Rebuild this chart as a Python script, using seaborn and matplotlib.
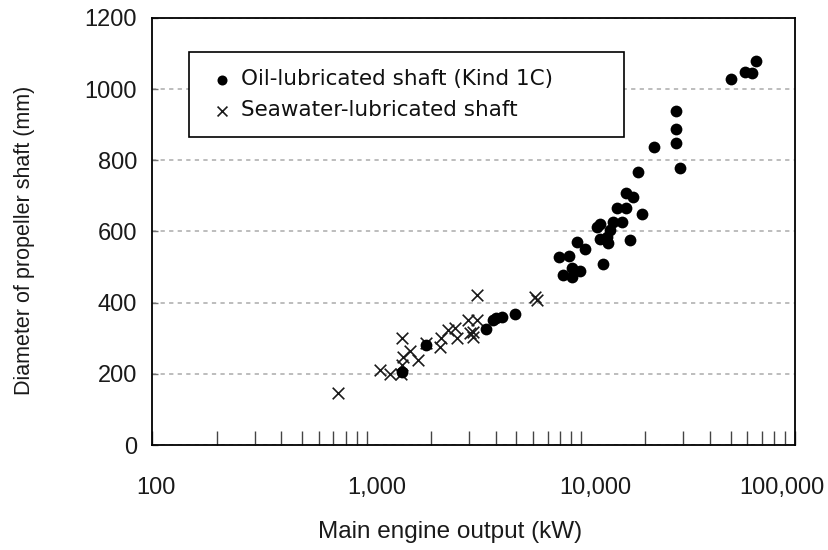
import numpy as np
import pandas as pd
import matplotlib
matplotlib.use('Agg')
import matplotlib.pyplot as plt
import matplotlib.transforms as mtransforms
from matplotlib.ticker import FixedLocator, LogLocator, NullFormatter
import seaborn as sns

# ── Data ───────────────────────────────────────────────────────────────────
oil_kw = [1470, 1905, 3630, 3900, 4040, 4270, 4920,
          7930, 8830, 8220, 9060, 9900, 9060, 9560, 10450,
          11850, 12280, 12280, 13430, 13190, 13680, 12730, 14170, 15520,
          14700, 16290, 16290, 17460, 16950, 19230, 18540, 22000,
          27800, 27800, 27800, 29000,
          50100, 58400, 62800, 65800]
oil_mm = [206, 280, 326, 351, 356, 361, 367,
          529, 531, 478, 473, 489, 497, 571, 550,
          612, 621, 578, 567, 585, 604, 508, 628, 628,
          665, 665, 707, 698, 576, 649, 768, 837,
          939, 887, 848, 779,
          1029, 1047, 1045, 1080]

sea_kw = [736, 1153, 1293, 1455, 1471, 1481, 1471, 1603, 1730, 1905,
          2214, 2238, 2403, 2583, 2630, 2981, 3262, 3133, 3133, 3033,
          3262, 6105, 6220]
sea_mm = [147, 211, 199, 200, 225, 248, 300, 264, 239, 286,
          276, 300, 323, 328, 300, 351, 351, 318, 304, 314,
          421, 417, 408]

oil_label = 'Oil-lubricated shaft (Kind 1C)'
sea_label = 'Seawater-lubricated shaft'

x_ticks = [100, 1000, 10000, 100000]
x_tick_labels = ['100', '1,000', '10,000', '100,000']
y_ticks = [0, 200, 400, 600, 800, 1000, 1200]

oil = pd.DataFrame({'kw': oil_kw, 'mm': oil_mm})
sea = pd.DataFrame({'kw': sea_kw, 'mm': sea_mm})

# ── Style ──────────────────────────────────────────────────────────────────
sns.set_style('white')
plt.rcParams['font.family'] = ['Liberation Sans', 'DejaVu Sans']

fig = plt.figure(figsize=(8.29, 5.50), dpi=100)
ax = fig.add_axes([0.1837, 0.1909, 0.7753, 0.7764])

# --- points ---
sns.scatterplot(data=sea, x='kw', y='mm', marker='x', s=70, color='#1a1a1a',
                linewidth=1.2, label=sea_label, ax=ax, zorder=3)
sns.scatterplot(data=oil, x='kw', y='mm', marker='o', s=72, color='black',
                linewidth=0, label=oil_label, ax=ax, zorder=4)

# --- axes ---
ax.set_xscale('log')
ax.set_xlim(100, 100000)
ax.set_ylim(0, 1200)
ax.xaxis.set_major_locator(FixedLocator(x_ticks))
ax.set_xticklabels(x_tick_labels)
ax.xaxis.set_minor_locator(LogLocator(base=10, subs=np.arange(2, 10)))
ax.xaxis.set_minor_formatter(NullFormatter())
ax.yaxis.set_major_locator(FixedLocator(y_ticks))

ax.tick_params(axis='x', which='both', direction='in', length=10, width=1,
               color='#444444', bottom=True, top=False, pad=23, labelsize=17,
               labelcolor='#1a1a1a')
ax.tick_params(axis='y', which='both', direction='in', length=4, width=1,
               color='#777777', left=True, right=False, pad=11, labelsize=17,
               labelcolor='#1a1a1a')

# tick labels in the original sit a little off their ticks
label_shift = [3.7, 10.3, 14.7, -13.5]
for lab, dx in zip(ax.get_xticklabels(), label_shift):
    lab.set_transform(lab.get_transform() +
                      mtransforms.ScaledTranslation(dx / 100, 0, fig.dpi_scale_trans))

ax.yaxis.grid(True, color='#bdbdbd', linestyle=(0, (2.2, 2.2)), linewidth=1.4)
ax.xaxis.grid(False)
ax.set_axisbelow(True)

for sp in ax.spines.values():
    sp.set_visible(True)
    sp.set_color('black')
    sp.set_linewidth(1.3)

ax.set_xlabel('Main engine output (kW)', fontsize=17.5, color='#1a1a1a')
ax.xaxis.set_label_coords(0.463, -0.178)
ax.set_ylabel('Diameter of propeller shaft (mm)', fontsize=15.5, color='#1a1a1a')
ax.yaxis.set_label_coords(-0.1825, 0.48)

# --- legend ---
handles, labels = ax.get_legend_handles_labels()
order = [labels.index(oil_label), labels.index(sea_label)]
leg = ax.legend([handles[i] for i in order], [labels[i] for i in order],
                loc='upper left', bbox_to_anchor=(0.0576, 0.4, 0.677, 0.5197),
                mode='expand', borderaxespad=0, borderpad=0.8, labelspacing=0.5,
                handlelength=1.45, handletextpad=0.15, fancybox=False, framealpha=1,
                edgecolor='black', markerscale=0.85,
                prop={'family': 'DejaVu Sans', 'size': 15.5})
leg.get_frame().set_linewidth(1.2)
for t in leg.get_texts():
    t.set_color('#111111')

fig.savefig('out.png', dpi=100, facecolor='white')
